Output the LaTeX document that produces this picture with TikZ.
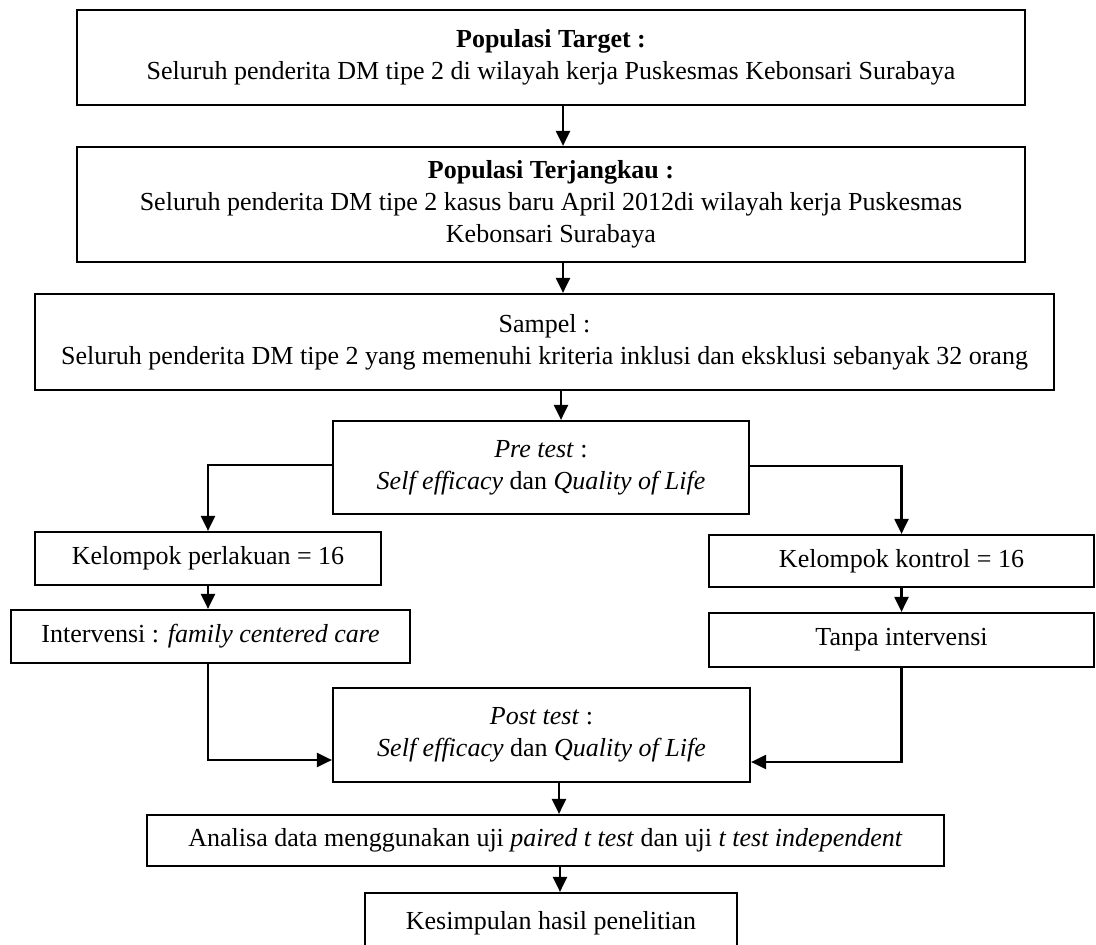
\documentclass[tikz,border=0pt]{standalone}
\usepackage{fontspec}
\setmainfont{Liberation Serif}
\usetikzlibrary{arrows.meta}
\begin{document}
\begin{tikzpicture}[x=0.5pt,y=-0.5pt,
  box/.style={draw, line width=1.1pt, rectangle, inner sep=0pt, align=center,
    font=\fontsize{13}{16}\selectfont},
  sz/.style 2 args={minimum width=#1*0.5pt, minimum height=#2*0.5pt},
  arr/.style={line width=1.1pt, -{Triangle[length=7.5pt,width=7pt]}}]
\useasboundingbox (0,0) rectangle (1096,945);
\fill[white] (0,0) rectangle (1096,945);
\clip (0,0) rectangle (1096,945);

% boxes of the flow
\node[box, sz={948}{95}] (popt) at (551,57.5)
  {\textbf{Populasi Target :}\\Seluruh penderita DM tipe 2 di wilayah kerja Puskesmas Kebonsari Surabaya};
\node[box, sz={948}{115}] (popj) at (551,204.5)
  {\textbf{Populasi Terjangkau :}\\Seluruh penderita DM tipe 2 kasus baru April 2012di wilayah kerja Puskesmas\\Kebonsari Surabaya};
\node[box, sz={1019}{96}] (sampel) at (544.5,342)
  {Sampel :\\Seluruh penderita DM tipe 2 yang memenuhi kriteria inklusi dan eksklusi sebanyak 32 orang};
\node[box, sz={416}{93}] (pre) at (541,467.5)
  {\textit{Pre test} :\\\textit{Self efficacy} dan \textit{Quality of Life}};
\node[box, sz={346}{53}] (perl) at (208,558.5) {Kelompok perlakuan = 16};
\node[box, sz={385}{52}] (kontrol) at (901.5,561) {Kelompok kontrol = 16};
\node[box, sz={399}{53}] (interv) at (210.5,636.5) {Intervensi : \textit{family centered care}};
\node[box, sz={385}{54}] (tanpa) at (901.5,640) {Tanpa intervensi};
\node[box, sz={417}{94}] (post) at (541.5,735)
  {\textit{Post test} :\\\textit{Self efficacy} dan \textit{Quality of Life}};
\node[box, sz={797}{51}] (analisa) at (545.5,840.5)
  {Analisa data menggunakan uji \textit{paired t test} dan uji \textit{t test independent}};
\node[box, sz={372}{60}] (simpul) at (551,923) {Kesimpulan hasil penelitian};

% x positions of the vertical connectors
\coordinate (c1) at (563,0);
\coordinate (c2) at (561,0);
\coordinate (c3) at (559,0);
\coordinate (c4) at (560,0);

% connectors
\draw[arr] (popt.south -| c1) -- (popj.north -| c1);
\draw[arr] (popj.south -| c1) -- (sampel.north -| c1);
\draw[arr] (sampel.south -| c2) -- (pre.north -| c2);
\draw[arr] ([yshift=1.25pt]pre.west) -| (perl.north);
\draw[arr] ([yshift=0.75pt]pre.east) -| (kontrol.north);
\draw[arr] (perl.south) -- (perl.south |- interv.north);
\draw[arr] (kontrol.south) -- (tanpa.north);
\draw[arr] (interv.south -| perl.south) |- ([yshift=-12.5pt]post.west);
\draw[arr] (tanpa.south) |- ([yshift=-13.5pt]post.east);
\draw[arr] (post.south -| c3) -- (analisa.north -| c3);
\draw[arr] (analisa.south -| c4) -- (simpul.north -| c4);
\end{tikzpicture}
\end{document}
